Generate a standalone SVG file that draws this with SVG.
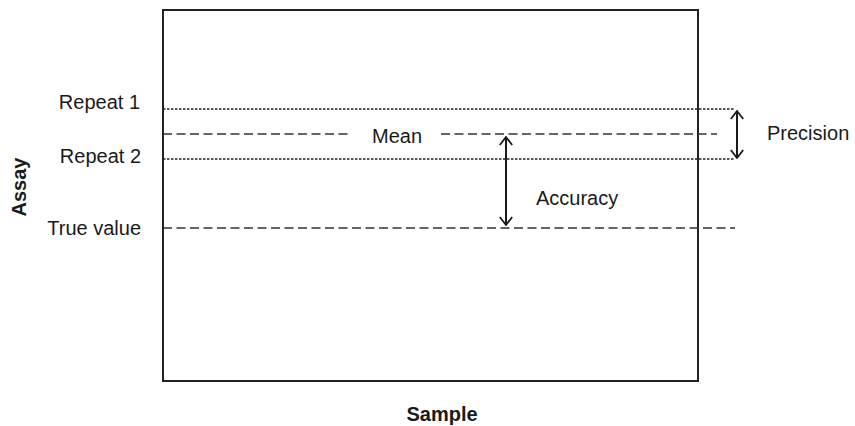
<svg xmlns="http://www.w3.org/2000/svg" width="855" height="426" viewBox="0 0 855 426">
<defs>
<style>
text{font-family:"Liberation Sans",Arial,sans-serif;font-size:20px;fill:#1a1a1a}
.b{font-weight:bold}
.dot{stroke:#222;stroke-width:1.5;stroke-dasharray:2.5 1.5;fill:none}
.dash{stroke:#333;stroke-width:1.7;stroke-dasharray:9 4.5;fill:none}
.arr{stroke:#1a1a1a;stroke-width:2;fill:none}
</style>
<marker id="ah" viewBox="0 0 10 14" refX="9" refY="7" markerWidth="10" markerHeight="14" markerUnits="userSpaceOnUse" orient="auto-start-reverse">
<path d="M1,0.8 L9,7 L1,13.2" fill="none" stroke="#1a1a1a" stroke-width="1.8"/>
</marker>
</defs>
<rect width="855" height="426" fill="#fff"/>
<g id="frame"><rect x="163" y="10" width="535" height="371" fill="none" stroke="#222" stroke-width="2"/></g>
<g id="connectors">
<line class="dot" x1="163" y1="109" x2="735" y2="109"/>
<line class="dot" x1="163" y1="159" x2="735" y2="159"/>
<line class="dash" x1="163" y1="134" x2="349" y2="134"/>
<line class="dash" x1="441" y1="134" x2="717" y2="134"/>
<line class="dash" x1="163" y1="228" x2="735" y2="228"/>
<line class="arr" x1="506" y1="137" x2="506" y2="225" marker-start="url(#ah)" marker-end="url(#ah)"/>
<line class="arr" x1="737" y1="111" x2="737" y2="158" marker-start="url(#ah)" marker-end="url(#ah)"/>
</g>
<g id="labels">
<text x="140" y="109" text-anchor="end">Repeat 1</text>
<text x="141" y="163" text-anchor="end">Repeat 2</text>
<text x="141" y="235" text-anchor="end">True value</text>
<text x="372" y="143">Mean</text>
<text x="767" y="140">Precision</text>
<text x="536" y="205">Accuracy</text>
<text class="b" transform="translate(26,187) rotate(-90)" text-anchor="middle">Assay</text>
<text class="b" x="442" y="421" text-anchor="middle">Sample</text>
</g>
</svg>
